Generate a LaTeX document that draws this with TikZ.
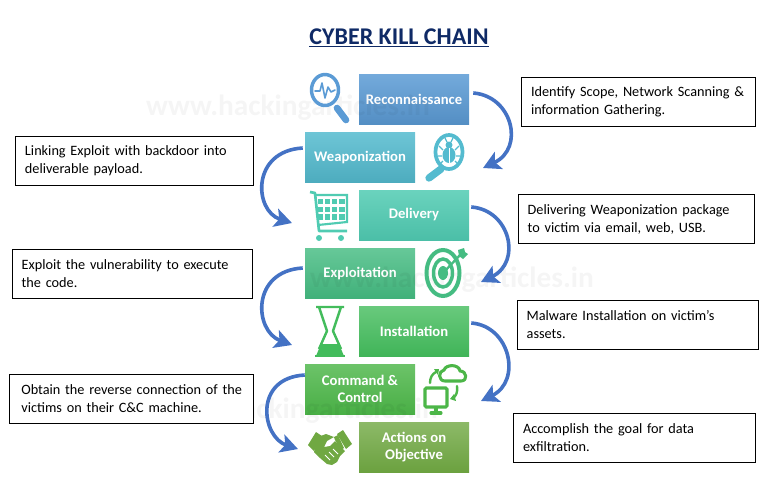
\documentclass[tikz,border=0pt]{standalone}
\usepackage{fontspec}
\setmainfont{Carlito}
\usetikzlibrary{arrows.meta}
\definecolor{flow}{HTML}{4472C4}
\definecolor{titleblue}{HTML}{0F2A66}
\definecolor{cRec}{HTML}{5B9BD5}
\definecolor{cWeap}{HTML}{54BBCF}
\definecolor{cDel}{HTML}{50CBB2}
\definecolor{cExp}{HTML}{45BC82}
\definecolor{cIns}{HTML}{43BC5C}
\definecolor{cCC}{HTML}{4CB648}
\definecolor{cAct}{HTML}{70A842}
\tikzset{
  stagebox/.style={minimum width=82.5pt,minimum height=37.5pt,inner sep=1pt,text=white,
    font=\fontsize{11}{12.2}\selectfont\bfseries,align=center},
  notebox/.style={draw=black,line width=0.5pt,fill=white,inner xsep=7pt,inner ysep=0pt,minimum height=37pt,
    font=\fontsize{10.7}{13.5}\selectfont,align=left,text=black},
  watermark/.style={text=black,text opacity=0.04,font=\fontsize{22}{24}\selectfont\bfseries},
  flowline/.style={draw=flow,line width=2.7pt,-{Stealth[length=13pt,width=14pt,inset=3pt]}},
}
\begin{document}
\begin{tikzpicture}[x=0.75pt,y=-0.75pt]
\useasboundingbox (0,0) rectangle (783,483);
% title
\node[text=titleblue,font=\fontsize{18}{20}\selectfont\bfseries] (title) at (399,38) {\underline{CYBER KILL CHAIN}};
% stages
\node[stagebox,top color=cRec!85!white,bottom color=cRec!92!black] (rec) at (414,99) {Reconnaissance};
\node[stagebox,top color=cWeap!85!white,bottom color=cWeap!92!black] (wea) at (360,157) {Weaponization};
\node[stagebox,top color=cDel!85!white,bottom color=cDel!94!black] (del) at (414,215) {Delivery};
\node[stagebox,top color=cExp!82!white,bottom color=cExp!94!black] (exp) at (360,273) {Exploitation};
\node[stagebox,top color=cIns!80!white,bottom color=cIns!96!black] (ins) at (414,331) {Installation};
\node[stagebox,top color=cCC!82!white,bottom color=cCC!96!black] (cc) at (360,389) {Command \&\\Control};
\node[stagebox,top color=cAct!80!white,bottom color=cAct!96!black] (act) at (414,447) {Actions on\\Objective};
% watermarks
\node[watermark] (wa) at (288,108) {www.hackingarticles.in};
\node[watermark] (wb) at (452,280) {www.hackingarticles.in};
\node[watermark] (wc) at (296,411) {www.hackingarticles.in};
% notes
\node[notebox,minimum width=175.5pt,text width=161pt,anchor=north west] (n1) at (521,77) {Identify Scope, Network Scanning \&\\information Gathering.};
\node[notebox,minimum width=178.5pt,text width=164pt,anchor=north west] (n2) at (15,136) {Linking Exploit with backdoor into\\deliverable payload.};
\node[notebox,minimum width=177pt,text width=163pt,anchor=north west] (n3) at (518,194) {Delivering Weaponization package\\to victim via email, web, USB.};
\node[notebox,minimum width=180pt,text width=166pt,anchor=north west] (n4) at (12,249) {Exploit the vulnerability to execute\\the code.};
\node[notebox,minimum width=180.75pt,text width=167pt,anchor=north west] (n5) at (517,300) {Malware Installation on victim’s\\assets.};
\node[notebox,minimum width=183pt,text width=169pt,anchor=north west] (n6) at (9,374) {\hspace*{2pt}Obtain the reverse connection of the\\\hspace*{2pt}victims on their C\&C machine.};
\node[notebox,minimum width=181.5pt,text width=167pt,anchor=north west] (n7) at (513,413) {Accomplish the goal for data\\exfiltration.};
% flow arrows
\coordinate (t1) at (483,168);
\coordinate (t2) at (292,223);
\coordinate (t3) at (481,282);
\coordinate (t4) at (292,345);
\coordinate (t5) at (481,401);
\coordinate (t6) at (298,449);
\draw[flowline] ([shift={(4,-6)}]rec.east) .. controls +(39,3) and +(42,-20) .. (t1);
\draw[flowline] ([shift={(-2,-9)}]wea.west) .. controls +(-52,3) and +(-38,-12) .. (t2);
\draw[flowline] ([shift={(2,-8)}]del.east) .. controls +(39,3) and +(41,-20) .. (t3);
\draw[flowline] ([shift={(-2,-5)}]exp.west) .. controls +(-52,3) and +(-38,-14) .. (t4);
\draw[flowline] ([shift={(2,-8)}]ins.east) .. controls +(39,3) and +(41,-20) .. (t5);
\draw[flowline] ([shift={(0,-14)}]cc.west) .. controls +(-52,3) and +(-36,-12) .. (t6);
% magnifier pulse
\begin{scope}[draw=cRec,line cap=round]
\draw[line width=2.6pt] (325,90) ellipse (13.5 and 15.5);
\draw[line width=5pt] (337,108) -- (346,120);
\draw[line width=1.2pt,line join=round] (315,91) -- (320,91) -- (322,83) -- (325,98) -- (328,87) -- (331,92) -- (335,90);
\end{scope}
% magnifier bug
\begin{scope}[draw=cWeap,fill=cWeap]
\draw[line width=2.8pt,fill=none] (449,152) ellipse (13.5 and 17);
\draw[line width=5.5pt,line cap=round] (441,169) -- (429,178);
\fill (449,155) ellipse (6.5 and 8);
\fill (449,145) circle (3.5);
\draw[line width=.9pt] (443,150) -- (439,146) (455,150) -- (459,146) (442,156) -- (438,156) (456,156) -- (460,156) (443,161) -- (439,165) (455,161) -- (459,165) (447,142) -- (445,138) (451,142) -- (453,138);
\draw[white,line width=.6pt] (449,148) -- (449,163);
\end{scope}
% cart
\begin{scope}[draw=cDel,fill=cDel]
\draw[line width=2pt,fill=none,line join=round] (310,192) -- (315,193) -- (319,231) -- (347,231);
\draw[line width=1.6pt,fill=none] (315,195) -- (347,195) -- (347,222) -- (318,225);
\foreach \i in {0,1,2,3}{
  \foreach \j in {0,1,2}{
    \fill (317.5+\i*7.3,199+\j*7.7) rectangle +(5.3,5.3);
  }
}
\fill (319,238) circle (3);
\fill (341,238) circle (3);
\end{scope}
% target
\begin{scope}[draw=cExp,fill=cExp]
\draw[line width=3pt,fill=none] (443,273) ellipse (16.5 and 23);
\draw[line width=2.6pt,fill=none] (443,273) ellipse (9.5 and 14);
\fill (443,273) ellipse (5 and 7);
\draw[line width=1.8pt] (443,273) -- (462,253);
\fill (458,250) -- (464,248) -- (465,252) -- (468,254) -- (463,259) -- (459,256) -- cycle;
\end{scope}
% hourglass
\begin{scope}[draw=cIns,fill=cIns]
\draw[line width=1.8pt,line join=round,fill=none] (316,307) -- (344,307) (319,307) -- (327,331) -- (319,349) (341,307) -- (333,331) -- (341,349);
\fill (316,356) -- (321,344) -- (339,344) -- (344,356) -- cycle;
\draw[line width=1.6pt] (315,356) -- (345,356);
\end{scope}
% cloud and monitor
\begin{scope}[draw=cCC,fill=cCC,line cap=round]
\draw[line width=2.3pt,fill=none,line join=round] (445,381) .. controls (438,381) and (438,371) .. (444,370) .. controls (446,364) and (459,364) .. (460,371) .. controls (467,371) and (468,381) .. (461,381) -- cycle;
\draw[line width=2.3pt,fill=white,rounded corners=1pt] (425,388) rectangle (447,407);
\draw[line width=2.3pt] (436,408) -- (436,412) (431,413) -- (441,413);
\draw[line width=1.8pt] (430,383) .. controls (430,378) and (432,374) .. (436,372);
\fill (439,369) -- (434,369) -- (438,375) -- cycle;
\draw[line width=1.8pt] (457,386) .. controls (458,392) and (456,396) .. (453,398);
\fill (450,399) -- (456,401) -- (454,394) -- cycle;
\end{scope}
% handshake
\begin{scope}[fill=cAct]
\fill (308,445) -- (316,432) -- (322,436) -- (314,451) -- cycle;
\fill (343,430) -- (352,444) -- (346,449) -- (337,434) -- cycle;
\fill (318,437) -- (326,434) -- (334,437) -- (327,441) -- (324,447) -- (330,446) -- (335,441) -- (345,451) -- (340,456) -- (337,462) -- (332,465) -- (327,464) -- (320,458) -- (314,452) -- cycle;
\fill (334,437) -- (338,435) -- (344,448) -- (341,450) -- (335,440) -- cycle;
\draw[white,line width=.7pt] (325,455) -- (330,460) (329,452) -- (334,457) (333,449) -- (338,454);
\end{scope}
\end{tikzpicture}
\end{document}
